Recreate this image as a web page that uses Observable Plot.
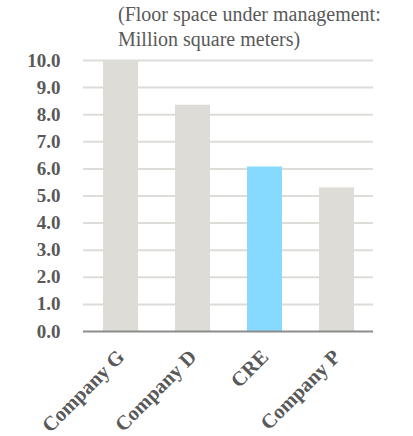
<!DOCTYPE html>
<html>
<head>
<meta charset="utf-8">
<script src="https://cdn.jsdelivr.net/npm/d3@7"></script>
<script src="https://cdn.jsdelivr.net/npm/@observablehq/plot@0.6"></script>
<style>
  body { margin: 0; background: #fff; }
  #wrap { position: relative; width: 413px; height: 436px; }
  #title { position: absolute; left: 118px; top: 2px; font-family: "Liberation Serif", "Times New Roman", serif;
           font-size: 20px; line-height: 25px; color: #595959; white-space: nowrap; }
  #chart { position: absolute; left: 0; top: 0; }
</style>
</head>
<body>
<div id="wrap">
  <div id="chart"></div>
  <div id="title">(Floor space under management:<br>Million square meters)</div>
</div>
<script>
const companies = ["Company G", "Company D", "CRE", "Company P"];
const floorSpace = [10.0, 8.35, 6.07, 5.3];
const highlight = "CRE";
const yTicks = [0, 1, 2, 3, 4, 5, 6, 7, 8, 9, 10];

const data = companies.map((c, i) => ({company: c, value: floorSpace[i]}));
const serif = "'Liberation Serif', 'Times New Roman', serif";

const chart = Plot.plot({
  width: 413,
  height: 436,
  marginTop: 60,
  marginBottom: 105,
  marginLeft: 83,
  marginRight: 40,
  style: {fontFamily: serif, color: "#595959", background: "transparent"},
  x: {domain: companies, paddingInner: 0.517, paddingOuter: 0.2585, label: null},
  y: {domain: [0, 10], label: null},
  marks: [
    Plot.ruleY(yTicks.filter(t => t > 0), {stroke: "#dcdcd8", strokeWidth: 2}),
    Plot.barY(data, {x: "company", y: "value", fill: d => d.company === highlight ? "#87daff" : "#dedcd7"}),
    Plot.ruleY([0], {stroke: "#8c8c8c", strokeWidth: 2}),
    Plot.axisY({ticks: yTicks, tickFormat: d3.format(".1f"), tickSize: 0, tickPadding: 23, fontSize: 19, fontWeight: "bold", fontFamily: serif, fill: "#595959", label: null}),
    Plot.axisX({tickSize: 0, tickRotate: -45, tickPadding: 22, fontSize: 20.5, fontWeight: "bold", fontFamily: serif, fill: "#595959", label: null})
  ]
});
document.getElementById("chart").appendChild(chart);
</script>
</body>
</html>
